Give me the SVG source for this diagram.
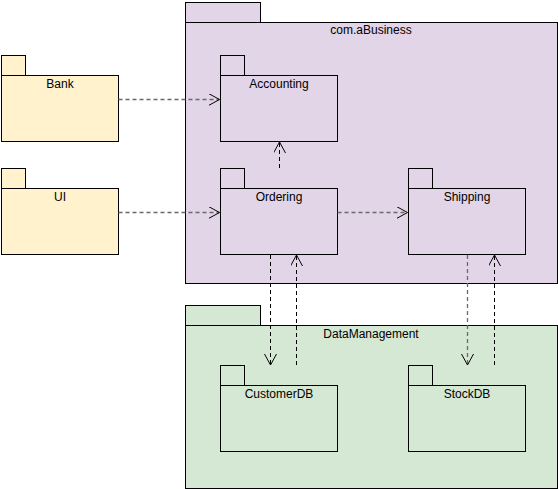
<svg xmlns="http://www.w3.org/2000/svg" width="558" height="489" viewBox="0 0 558 489">
<style>
.pkg{stroke:#000;stroke-width:1}
.biz{fill:#e1d5e7}
.dm{fill:#d5e8d4}
.ext{fill:#fff2cc}
.lbl{font-family:"Liberation Sans",Arial,sans-serif;font-size:12px;fill:#000;text-anchor:middle}
.dep{fill:none;stroke-width:1;stroke-dasharray:4 3}
.g{stroke:#6a6a6a;stroke-width:1.3}
.k{stroke:#000}
</style>
<defs>
<marker id="open" markerWidth="14" markerHeight="14" refX="11" refY="6" orient="auto" markerUnits="userSpaceOnUse">
<path d="M0,0 L11,6 L0,12" fill="none" stroke="#000" stroke-width="1"/>
</marker>
</defs>
<rect width="558" height="489" fill="#fff"/>
<g id="com.aBusiness">
<rect class="pkg biz" x="185.5" y="2.5" width="75" height="20"/>
<rect class="pkg biz" x="185.5" y="22.5" width="372" height="261"/>
<text class="lbl" x="371" y="34">com.aBusiness</text>
</g>
<g id="DataManagement">
<rect class="pkg dm" x="185.5" y="305.5" width="75" height="20"/>
<rect class="pkg dm" x="185.5" y="325.5" width="372" height="163"/>
<text class="lbl" x="371" y="338">DataManagement</text>
</g>
<g id="Bank">
<rect class="pkg ext" x="1.5" y="55.5" width="24" height="20"/>
<rect class="pkg ext" x="1.5" y="75.5" width="117" height="66"/>
<text class="lbl" x="60" y="88">Bank</text>
</g>
<g id="UI">
<rect class="pkg ext" x="1.5" y="168.5" width="24" height="20"/>
<rect class="pkg ext" x="1.5" y="188.5" width="117" height="66"/>
<text class="lbl" x="60" y="201">UI</text>
</g>
<g id="Accounting">
<rect class="pkg biz" x="220.5" y="55.5" width="24" height="20"/>
<rect class="pkg biz" x="220.5" y="75.5" width="117" height="66"/>
<text class="lbl" x="279" y="88">Accounting</text>
</g>
<g id="Ordering">
<rect class="pkg biz" x="220.5" y="168.5" width="24" height="20"/>
<rect class="pkg biz" x="220.5" y="188.5" width="117" height="66"/>
<text class="lbl" x="279" y="201">Ordering</text>
</g>
<g id="Shipping">
<rect class="pkg biz" x="408.5" y="168.5" width="24" height="20"/>
<rect class="pkg biz" x="408.5" y="188.5" width="117" height="66"/>
<text class="lbl" x="467" y="201">Shipping</text>
</g>
<g id="CustomerDB">
<rect class="pkg dm" x="220.5" y="365.5" width="24" height="20"/>
<rect class="pkg dm" x="220.5" y="385.5" width="117" height="66"/>
<text class="lbl" x="279" y="398">CustomerDB</text>
</g>
<g id="StockDB">
<rect class="pkg dm" x="408.5" y="365.5" width="24" height="20"/>
<rect class="pkg dm" x="408.5" y="385.5" width="117" height="66"/>
<text class="lbl" x="467" y="398">StockDB</text>
</g>
<g id="connectors">
<path class="dep g" d="M118.5,99.5 L219.5,99.5" marker-end="url(#open)"/>
<path class="dep g" d="M118.5,212.5 L219.5,212.5" marker-end="url(#open)"/>
<path class="dep k" d="M279.5,168 L279.5,142" stroke-dasharray="10 3" marker-end="url(#open)"/>
<path class="dep g" d="M337.5,212.5 L407.5,212.5" marker-end="url(#open)"/>
<path class="dep k" d="M270.5,255 L270.5,365" marker-end="url(#open)"/>
<path class="dep k" d="M296.5,365 L296.5,255" marker-end="url(#open)"/>
<path class="dep g" d="M467.5,255 L467.5,365" marker-end="url(#open)"/>
<path class="dep k" d="M494.5,365 L494.5,255" marker-end="url(#open)"/>
</g>
</svg>
